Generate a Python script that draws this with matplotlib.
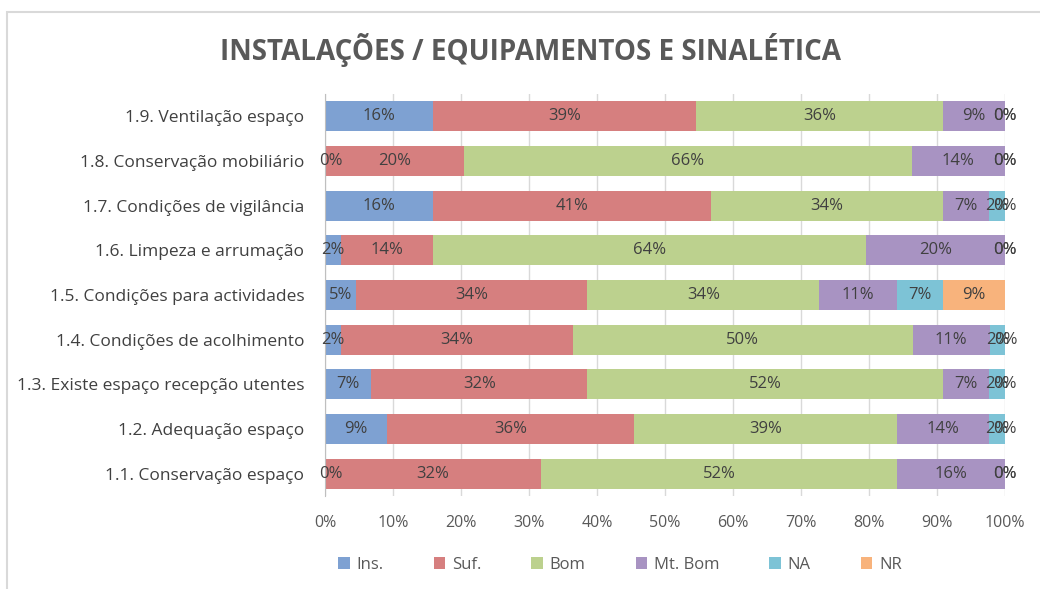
import numpy as np
import matplotlib.pyplot as plt
from matplotlib.patches import Rectangle

plt.rcParams['font.family'] = ['Open Sans', 'DejaVu Sans']

# categorias (de baixo para cima)
categorias = ['1.1. Conservação espaço', '1.2. Adequação espaço',
              '1.3. Existe espaço recepção utentes', '1.4. Condições de acolhimento',
              '1.5. Condições para actividades', '1.6. Limpeza e arrumação',
              '1.7. Condições de vigilância', '1.8. Conservação mobiliário',
              '1.9. Ventilação espaço']
series = ['Ins.', 'Suf.', 'Bom', 'Mt. Bom', 'NA', 'NR']

# percentagens por série
ins = [0.0, 9.1, 6.8, 2.3, 4.6, 2.3, 15.9, 0.0, 15.9]
suf = [31.8, 36.4, 31.8, 34.1, 34.0, 13.6, 40.9, 20.4, 38.6]
bom = [52.3, 38.6, 52.3, 50.0, 34.1, 63.7, 34.1, 65.9, 36.4]
mt_bom = [15.9, 13.6, 6.8, 11.4, 11.4, 20.4, 6.8, 13.7, 9.1]
na = [0.0, 2.3, 2.3, 2.3, 6.8, 0.0, 2.3, 0.0, 0.0]
nr = [0.0, 0.0, 0.0, 0.0, 9.1, 0.0, 0.0, 0.0, 0.0]

cores = ['#7EA1D2', '#D67F7F', '#BCD18E', '#A893C2', '#7DC3D6', '#F8B37C']

fig = plt.figure(figsize=(10.4, 5.89), dpi=100)
ax = fig.add_axes([325 / 1040, 1 - 496 / 589, 680 / 1040, 402 / 589])

y = np.arange(len(categorias))
esquerda = np.zeros(len(categorias))
for nome, vals, cor in zip(series, [ins, suf, bom, mt_bom, na, nr], cores):
    vals = np.array(vals)
    ax.barh(y, vals, left=esquerda, height=0.67, color=cor, label=nome, zorder=2)
    for yi, (l, v) in enumerate(zip(esquerda, vals)):
        # o Excel mostra também os 0%, excepto o NR da linha 1.5
        if nome == 'NR' and v == 0 and l + v < 99:
            continue
        x = l + v / 2
        if v == 0 and l == 0:
            x = 0.8
        ax.text(x, yi, f'{v:.0f}%', ha='center', va='center',
                fontsize=12, color='#404040', zorder=3)
    esquerda += vals

ax.set_xlim(0, 100)
ax.set_ylim(-0.5, len(categorias) - 0.5)
ax.set_xticks(np.arange(0, 101, 10))
ax.set_xticklabels([f'{t}%' for t in range(0, 101, 10)])
ax.set_yticks(y)
ax.set_yticklabels(categorias)
ax.tick_params(axis='x', length=0, pad=14, labelsize=11.5, labelcolor='#595959')
ax.tick_params(axis='y', length=0, pad=15, labelsize=12.5, labelcolor='#404040')
ax.grid(axis='x', color='#D9D9D9', linewidth=1, zorder=0)
for s in ['top', 'right', 'bottom']:
    ax.spines[s].set_visible(False)
ax.spines['left'].set_color('#BFBFBF')

fig.text(530 / 1040, 1 - 50 / 589, 'INSTALAÇÕES / EQUIPAMENTOS E SINALÉTICA',
         ha='center', va='center', fontsize=20, fontweight='bold', color='#595959')

fig.legend(loc='center', bbox_to_anchor=(620 / 1040, 1 - 565 / 589), ncol=6,
           frameon=False, fontsize=12, labelcolor='#595959', handlelength=0.7,
           handleheight=0.7, columnspacing=3.0, handletextpad=0.4)

# moldura do gráfico
fig.patches.append(Rectangle((7 / 1040, -0.1), 1.2, 1 - 12 / 589 + 0.1,
                             transform=fig.transFigure, fill=False,
                             edgecolor='#D9D9D9', linewidth=1.5))

fig.savefig('out.png', dpi=100)
